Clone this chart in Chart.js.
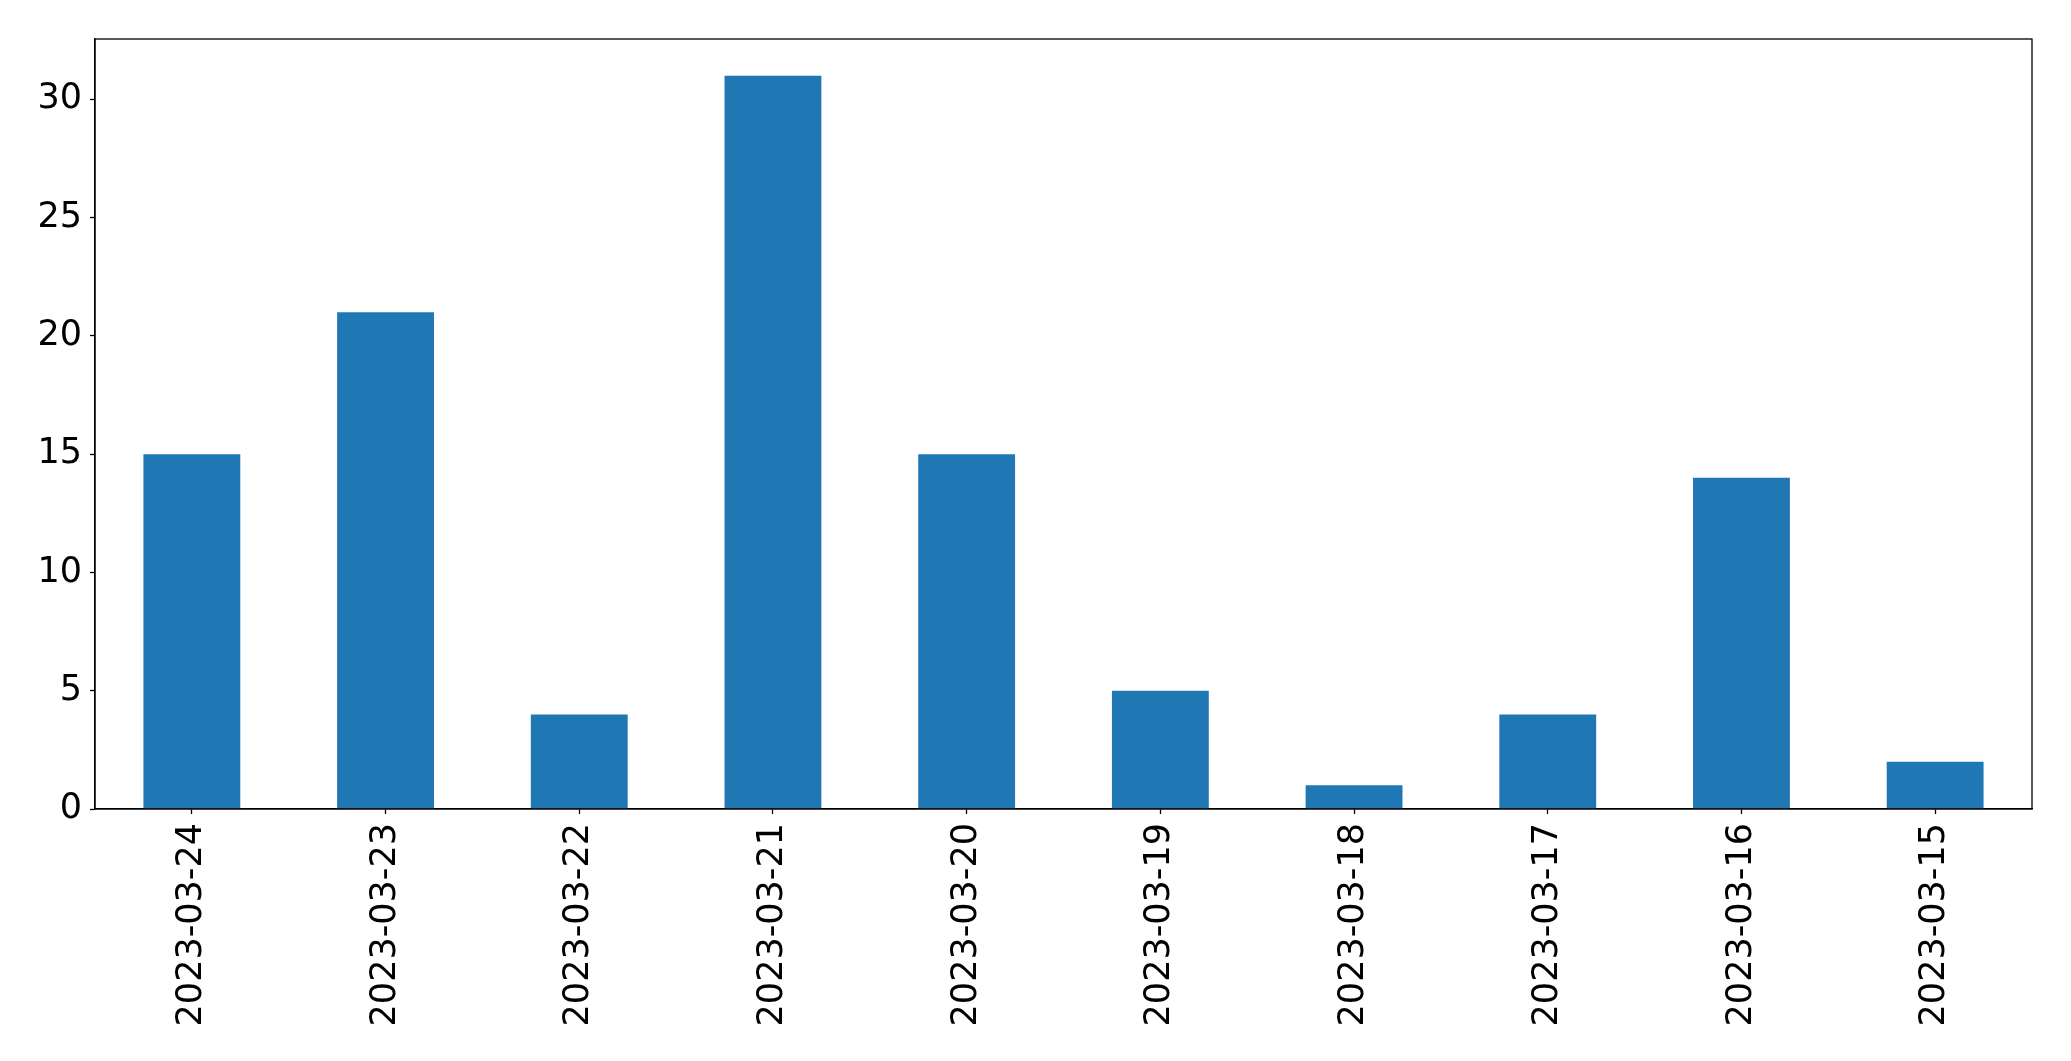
<!DOCTYPE html>
<html>
<head>
<meta charset="utf-8">
<script src="https://cdn.jsdelivr.net/npm/chart.js@4/dist/chart.umd.min.js"></script>
<style>
  html, body { margin: 0; padding: 0; background: #ffffff; }
  #wrap { width: 2071px; height: 1061px; }
</style>
</head>
<body>
<div id="wrap"><canvas id="barChart" width="2071" height="1061"></canvas></div>
<script>
const categories = ['2023-03-24', '2023-03-23', '2023-03-22', '2023-03-21', '2023-03-20',
                    '2023-03-19', '2023-03-18', '2023-03-17', '2023-03-16', '2023-03-15'];
const counts = [15, 21, 4, 31, 15, 5, 1, 4, 14, 2];
const yTicks = [0, 5, 10, 15, 20, 25, 30];

Chart.defaults.font.family = 'DejaVu Sans';
Chart.defaults.font.size = 35;
Chart.defaults.color = '#000000';

// matplotlib style full frame around the plot area
const frameBox = {
    id: 'frameBox',
    afterDraw(chart) {
        let a = chart.chartArea;
        let c = chart.ctx;
        c.save();
        c.strokeStyle = '#000000';
        c.lineWidth = 1.3;
        c.strokeRect(a.left, a.top, a.right - a.left, a.bottom - a.top);
        c.restore();
    }
};

let ctx = document.getElementById('barChart');
new Chart(ctx, {
    type: 'bar',
    data: {
        labels: categories,
        datasets: [{
            data: counts,
            backgroundColor: '#1f77b4',
            borderWidth: 0,
            categoryPercentage: 1.0,
            barPercentage: 0.5
        }]
    },
    options: {
        responsive: false,
        animation: false,
        layout: {
            padding: { top: 39, right: 39, left: 0, bottom: 0 }
        },
        scales: {
            x: {
                offset: true,
                grid: {
                    display: true,
                    offset: false,
                    drawOnChartArea: false,
                    drawTicks: true,
                    tickLength: 5,
                    tickColor: '#000000',
                    tickWidth: 1.3
                },
                border: { display: true, color: '#000000', width: 1.3 },
                ticks: {
                    minRotation: 90,
                    maxRotation: 90,
                    autoSkip: false,
                    padding: 9
                },
                afterFit(scale) { scale.height = 252; }
            },
            y: {
                min: 0,
                max: 32.55,
                grid: {
                    display: true,
                    drawOnChartArea: false,
                    drawTicks: true,
                    tickLength: 5,
                    tickColor: '#000000',
                    tickWidth: 1.3
                },
                border: { display: true, color: '#000000', width: 1.3 },
                afterBuildTicks(scale) {
                    scale.ticks = yTicks.map(v => ({ value: v }));
                },
                ticks: {
                    padding: 8
                },
                afterFit(scale) { scale.width = 95; }
            }
        },
        plugins: {
            legend: { display: false },
            tooltip: { enabled: false }
        }
    },
    plugins: [frameBox]
});
</script>
</body>
</html>
